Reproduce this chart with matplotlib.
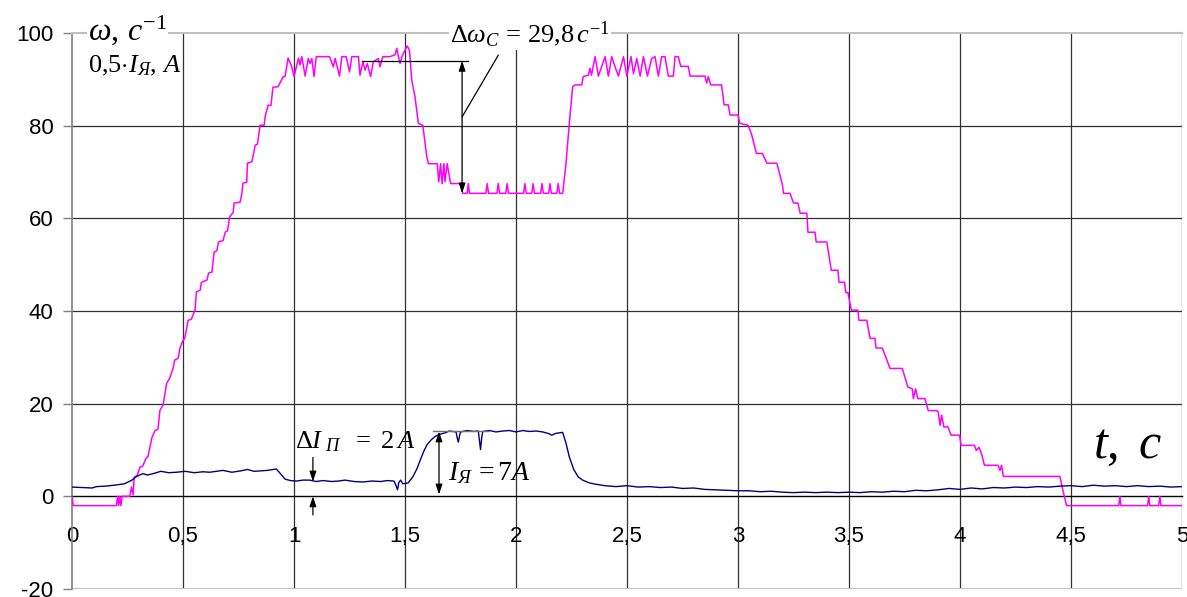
import matplotlib
matplotlib.use("Agg")
import matplotlib.pyplot as plt

plt.rcParams['font.family'] = ['Liberation Sans', 'DejaVu Sans']
plt.rcParams['mathtext.fontset'] = 'custom'
plt.rcParams['mathtext.rm'] = 'Liberation Serif'
plt.rcParams['mathtext.it'] = 'Liberation Serif:italic'
plt.rcParams['mathtext.bf'] = 'Liberation Serif:bold'

# speed omega, 1/s
w_t = [0.0, 0.005, 0.20, 0.205, 0.21, 0.215, 0.22, 0.225, 0.26, 0.268, 0.275, 0.28, 0.293, 0.306, 0.318,
       0.333, 0.342, 0.36, 0.374, 0.387, 0.396, 0.41, 0.426, 0.44, 0.455, 0.462, 0.478, 0.486, 0.50, 0.507,
       0.523, 0.537, 0.554, 0.56, 0.577, 0.583, 0.608, 0.615, 0.63, 0.64, 0.652, 0.66, 0.68, 0.69, 0.70,
       0.71, 0.726, 0.73, 0.757, 0.765, 0.77, 0.787, 0.79, 0.81, 0.825, 0.835, 0.847, 0.865, 0.87, 0.883,
       0.896, 0.905, 0.928, 0.95, 0.96, 0.973, 0.99, 1.0, 1.02, 1.027, 1.035, 1.05, 1.064, 1.072, 1.08,
       1.09, 1.10, 1.16, 1.177, 1.185, 1.205, 1.215, 1.235, 1.25, 1.26, 1.29, 1.297, 1.31, 1.32, 1.33,
       1.345, 1.357, 1.38, 1.387, 1.40, 1.432, 1.455, 1.463, 1.47, 1.478, 1.486, 1.50, 1.51, 1.52,
       1.53, 1.545, 1.56, 1.58, 1.598, 1.605, 1.645, 1.652, 1.66, 1.667, 1.675, 1.68, 1.69, 1.705,
       1.75, 1.76, 1.78, 1.785, 1.79, 1.864, 1.87, 1.876, 1.914, 1.92, 1.926, 1.954, 1.96, 1.966,
       2.034, 2.04, 2.046, 2.071, 2.077, 2.083, 2.111, 2.117, 2.123, 2.147, 2.153, 2.159, 2.184, 2.19,
       2.196, 2.21, 2.225, 2.24, 2.255, 2.266, 2.296, 2.303, 2.326, 2.333, 2.34, 2.356, 2.371, 2.401,
       2.416, 2.431, 2.446, 2.461, 2.484, 2.499, 2.518, 2.529, 2.544, 2.559, 2.574, 2.592, 2.611, 2.626,
       2.641, 2.656, 2.671, 2.686, 2.709, 2.716, 2.731, 2.742, 2.776, 2.784, 2.851, 2.859, 2.866, 2.877,
       2.926, 2.937, 2.956, 2.964, 3.0, 3.008, 3.045, 3.06, 3.083, 3.11, 3.13, 3.175, 3.20, 3.205,
       3.234, 3.25, 3.27, 3.28, 3.31, 3.315, 3.347, 3.352, 3.40, 3.42, 3.45, 3.455, 3.48, 3.485, 3.495,
       3.51, 3.54, 3.545, 3.58, 3.595, 3.617, 3.622, 3.65, 3.685, 3.74, 3.765, 3.785, 3.79, 3.80, 3.81,
       3.842, 3.857, 3.895, 3.902, 3.91, 3.917, 3.927, 3.945, 3.96, 3.998, 4.005, 4.065, 4.073, 4.085,
       4.097, 4.11, 4.171, 4.18, 4.187, 4.195, 4.45, 4.46, 4.47, 4.48, 4.715, 4.72, 4.725, 4.845, 4.85,
       4.855, 4.895, 4.9, 4.905, 5.0]
w_v = [0.0, -2, -2, 0.0, -2, 0.0, -2, 0.0, 0.0, 2.0, 0.3, 4.1, 4.5, 6.3, 6.5,
       8.2, 8.6, 12.7, 14.2, 14.5, 18.6, 19.7, 24.4, 25.5, 27.6, 29.4, 29.8, 32.0, 33.7, 34.0,
       38.0, 38.2, 40.2, 44.1, 44.5, 46.2, 46.7, 48.2, 48.4, 52.7, 53.0, 54.9, 55.2, 57.0, 57.3,
       60.3, 61.3, 63.3, 63.5, 65.4, 67.6, 67.8, 71.9, 72.2, 75.8, 76.0, 80.1, 80.1, 82.0, 84.4,
       84.4, 88.3, 88.4, 90.5, 90.7, 94.6, 92.7, 90.6, 94.6, 93.1, 94.9, 90.7, 94.5, 93.4, 94.5,
       90.6, 94.9, 94.9, 92.7, 94.5, 90.7, 94.9, 94.9, 91.6, 94.9, 94.9, 90.9, 93.8, 92.0, 93.4,
       90.6, 93.8, 94.5, 92.7, 94.9, 94.9, 95.3, 96.7, 94.9, 93.4, 94.9, 96.3, 97.2, 96.3,
       89.9, 86.2, 80.5, 80.1, 73.3, 71.8, 71.8, 67.9, 71.8, 67.5, 71.8, 67.9, 71.8, 67.5,
       67.5, 65.4, 65.4, 67.5, 65.4, 65.4, 67.5, 65.4, 65.4, 67.5, 65.4, 65.4, 67.5, 65.4,
       65.4, 67.5, 65.4, 65.4, 67.5, 65.4, 65.4, 67.5, 65.4, 65.4, 67.5, 65.4, 65.4, 67.5,
       65.4, 65.4, 71.8, 80.5, 88.4, 88.8, 88.8, 90.6, 90.9, 92.4, 90.9, 94.9, 90.7, 94.9,
       90.7, 94.9, 92.7, 90.7, 94.9, 90.7, 94.9, 91.2, 94.5, 90.7, 94.9, 90.7, 94.5, 94.9,
       90.7, 94.9, 94.9, 90.7, 90.7, 94.9, 94.9, 92.8, 92.8, 90.7, 90.7, 89.2, 90.6, 88.8,
       88.8, 84.5, 84.5, 82.3, 82.3, 80.5, 80.1, 78.3, 74.0, 74.0, 71.9, 71.9, 67.2, 65.4,
       65.4, 63.3, 63.3, 61.1, 61.1, 57.0, 57.0, 54.9, 54.9, 48.8, 48.8, 46.2, 46.2, 44.0, 44.0,
       40.2, 40.2, 38.0, 38.0, 34.1, 34.1, 32.0, 32.0, 27.6, 27.6, 23.6, 23.2, 21.1, 23.2, 21.1,
       21.1, 18.5, 18.5, 18.2, 15.3, 17.5, 15.0, 15.0, 13.2, 13.2, 11.0, 11.0, 9.9, 10.6,
       9.2, 6.7, 6.7, 5.6, 6.7, 4.3, 4.3, 2.0, 0.0, -2, -2, 0.0, -2, -2, 0.0,
       -2, -2, 0.0, -2, -2]

# armature current 0.5*I, A
i_t = [0.0, 0.05, 0.09, 0.11, 0.15, 0.19, 0.235, 0.27, 0.29, 0.32, 0.34, 0.365, 0.40, 0.435, 0.47,
       0.51, 0.55, 0.59, 0.62, 0.65, 0.68, 0.72, 0.76, 0.79, 0.82, 0.85, 0.88, 0.92, 0.935, 0.96,
       0.985, 1.01, 1.04, 1.07, 1.10, 1.13, 1.17, 1.20, 1.23, 1.27, 1.31, 1.35, 1.39, 1.42, 1.45,
       1.458, 1.466, 1.472, 1.48, 1.49, 1.514, 1.535, 1.554, 1.57, 1.586, 1.60, 1.618, 1.635, 1.65,
       1.68, 1.70, 1.73, 1.735, 1.74, 1.745, 1.75, 1.78, 1.81, 1.83, 1.835, 1.84, 1.845, 1.85, 1.88,
       1.91, 1.94, 1.97, 2.0, 2.03, 2.06, 2.09, 2.12, 2.15, 2.16, 2.18, 2.21, 2.225, 2.24, 2.26,
       2.28, 2.30, 2.33, 2.36, 2.40, 2.45, 2.5, 2.55, 2.6, 2.65, 2.7, 2.75, 2.8, 2.85, 2.9, 2.95,
       3.0, 3.05, 3.1, 3.15, 3.2, 3.25, 3.3, 3.35, 3.4, 3.45, 3.5, 3.55, 3.6, 3.65, 3.7, 3.75,
       3.8, 3.85, 3.9, 3.95, 4.0, 4.05, 4.1, 4.15, 4.2, 4.25, 4.3, 4.35, 4.4, 4.45, 4.5, 4.55,
       4.6, 4.65, 4.7, 4.75, 4.8, 4.85, 4.9, 4.95, 5.0]
i_v = [2.0, 1.9, 1.8, 2.1, 2.2, 2.4, 2.7, 3.5, 4.3, 4.9, 4.6, 4.9, 5.4, 5.1, 5.2,
       5.4, 5.1, 5.3, 5.2, 5.4, 5.6, 5.2, 5.5, 5.8, 5.4, 5.5, 5.6, 5.9, 5.1, 3.7,
       3.4, 3.3, 3.5, 3.5, 3.2, 3.4, 3.2, 3.3, 3.5, 3.2, 3.1, 3.3, 3.2, 3.4, 3.3,
       2.5, 1.4, 3.0, 3.5, 2.7, 2.9, 4.2, 6.0, 8.0, 9.9, 11.2, 12.2, 12.9, 13.3,
       13.7, 14.1, 13.9, 12.6, 11.7, 13.0, 13.9, 14.2, 14.0, 14.1, 12.0, 10.1, 12.5, 14.0, 14.2,
       13.9, 14.1, 14.2, 13.9, 14.2, 14.0, 14.1, 13.9, 13.5, 13.2, 13.6, 13.8, 11.5, 8.5, 5.8,
       4.2, 3.5, 2.9, 2.6, 2.3, 2.1, 2.3, 2.0, 2.1, 1.9, 2.0, 1.7, 1.8, 1.5, 1.4, 1.3,
       1.2, 1.2, 1.0, 1.1, 0.9, 0.8, 0.9, 0.8, 0.9, 0.8, 0.9, 0.8, 1.0, 0.9, 1.1, 1.0,
       1.3, 1.2, 1.4, 1.7, 1.5, 1.8, 1.6, 1.9, 1.8, 2.0, 1.9, 2.1, 2.0, 2.2, 2.3, 2.1,
       2.4, 2.2, 2.3, 2.1, 2.3, 2.1, 2.2, 2.0, 2.1]

x_ticks = [0, 0.5, 1, 1.5, 2, 2.5, 3, 3.5, 4, 4.5, 5]
x_labels = ['0', '0,5', '1', '1,5', '2', '2,5', '3', '3,5', '4', '4,5', '5']
y_ticks = [-20, 0, 20, 40, 60, 80, 100]
y_labels = ['-20', '0', '20', '40', '60', '80', '100']

fig = plt.figure(figsize=(11.87, 5.97), dpi=100)
ax = fig.add_axes([0.0607, 0.0134, 0.9351, 0.9313])
ax.set_xlim(0, 5)
ax.set_ylim(-20, 100)

# grid
for xv in x_ticks[1:]:
    ax.axvline(xv, color='#303030', lw=0.9, zorder=1)
for yv in [20, 40, 60, 80]:
    ax.axhline(yv, color='#303030', lw=0.9, zorder=1)
ax.axhline(-20, color='#c0c0c0', lw=1.5, zorder=1)

ax.spines['right'].set_visible(False)
ax.spines['top'].set_color('#c0c0c0')
ax.spines['top'].set_linewidth(1.5)
ax.spines['left'].set_color('#808080')
ax.spines['left'].set_linewidth(1.2)
ax.spines['bottom'].set_position(('data', 0))
ax.spines['bottom'].set_color('black')
ax.spines['bottom'].set_linewidth(1.0)

ax.set_xticks(x_ticks)
ax.set_xticklabels(x_labels)
ax.set_yticks(y_ticks)
ax.set_yticklabels(y_labels)
ax.tick_params(axis='x', length=0, pad=21, labelsize=16)
ax.tick_params(axis='y', direction='out', length=6.5, width=1.0, color='#808080', pad=7, labelsize=16)

ax.plot(w_t, w_v, color='#ff00ff', lw=1.1, zorder=3)
ax.plot(i_t, i_v, color='#000080', lw=1.0, zorder=3)

box = dict(facecolor='white', edgecolor='none', pad=1)
ax.text(0.072, 98.5, r'$\omega,\, c^{-1}$', fontsize=23, va='baseline', ha='left', bbox=box, zorder=5, clip_on=False)
ax.text(0.072, 91.4, r'$0{,}5{\cdot}I_{Я},\, A$', fontsize=19, va='baseline', ha='left', zorder=5)
ax.text(1.703, 98.1, r'$\Delta\omega_{C}\,=\,29{,}8\,c^{-1}$', fontsize=19, va='baseline', ha='left',
        bbox=box, zorder=5, clip_on=False)
ax.text(1.005, 10.4, r'$\Delta I_{\ П}\ \ =\ 2\,A$', fontsize=19, va='baseline', ha='left', zorder=5)
ax.text(1.694, 3.5, r'$I_{Я}\,=7A$', fontsize=20, va='baseline', ha='left', zorder=5)
ax.text(4.60, 8.2, r'$t,\ c$', fontsize=36, va='baseline', ha='left', bbox=box, zorder=5, clip_on=False)

# annotation lines and arrows
ax.plot([1.305, 1.785], [94, 94], color='black', lw=0.9, zorder=4)
ax.plot([1.757, 1.92], [81.9, 95.2], color='black', lw=0.9, zorder=4)
ax.plot([1.627, 1.874], [14, 14], color='#707070', lw=1.0, zorder=4)
ap = dict(arrowstyle='<|-|>,head_length=0.6,head_width=0.2', color='black', lw=0.9, shrinkA=0, shrinkB=0)
ax.annotate('', xy=(1.757, 94), xytext=(1.757, 65.4), arrowprops=ap, zorder=4)
ax.annotate('', xy=(1.653, 14), xytext=(1.653, 0.4), arrowprops=ap, zorder=4)
ap1 = dict(arrowstyle='-|>,head_length=0.6,head_width=0.2', color='black', lw=0.9, shrinkA=0, shrinkB=0)
ax.annotate('', xy=(1.085, 3.2), xytext=(1.085, 8.4), arrowprops=ap1, zorder=4)
ax.annotate('', xy=(1.085, 0), xytext=(1.085, -4), arrowprops=ap1, zorder=4)

fig.savefig('out.png', dpi=100)
